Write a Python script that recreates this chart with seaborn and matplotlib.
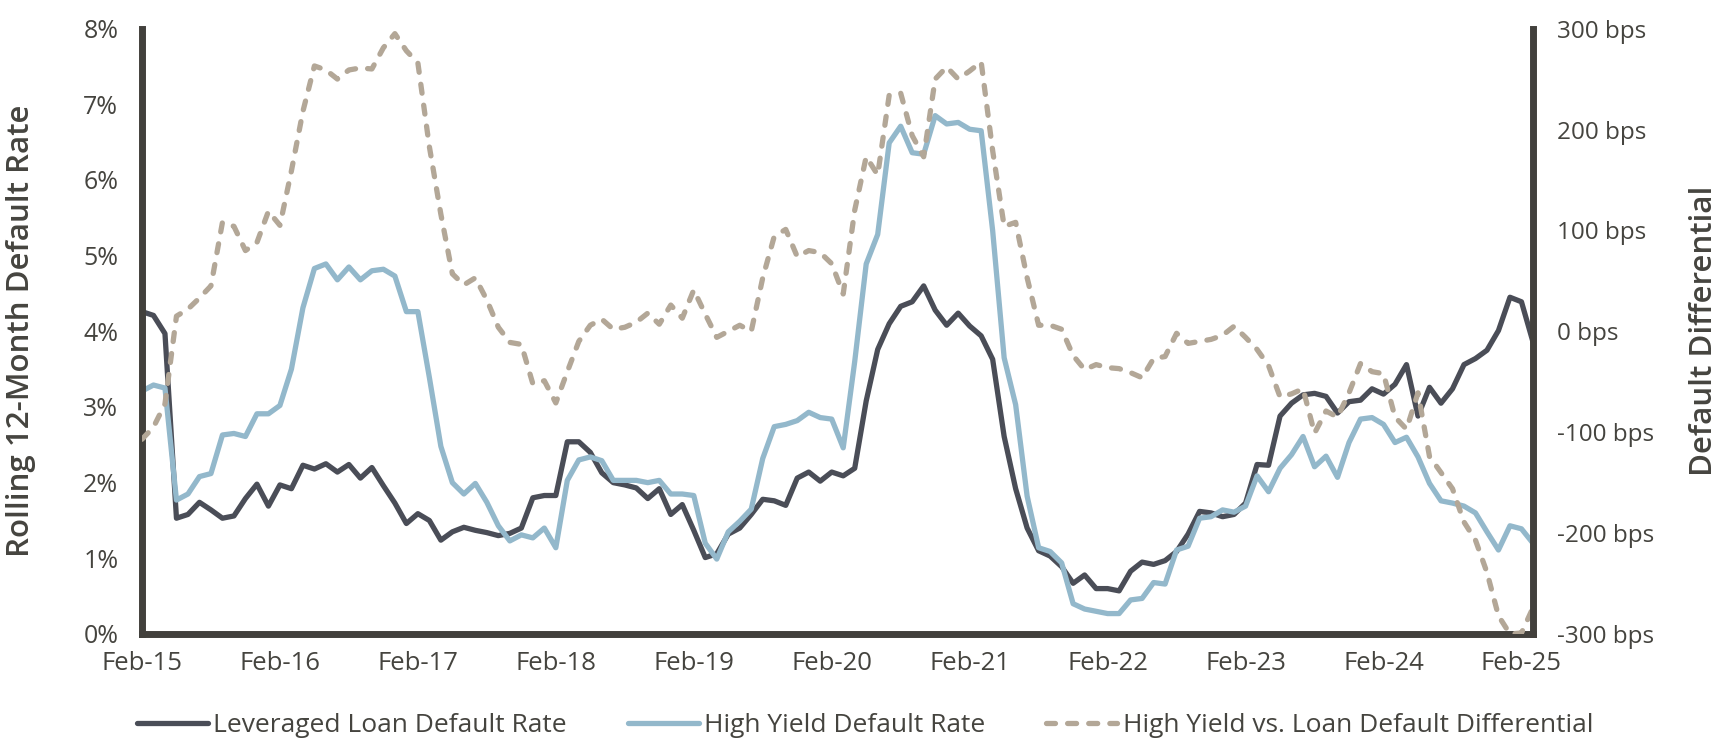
import numpy as np
import pandas as pd
import matplotlib
matplotlib.use("Agg")
import matplotlib.pyplot as plt
import seaborn as sns
from matplotlib.ticker import FuncFormatter, FixedLocator

# ---------------- data (monthly, Feb-15 .. Mar-25) ----------------
tick_labels = ["Feb-15", "Feb-16", "Feb-17", "Feb-18", "Feb-19", "Feb-20",
               "Feb-21", "Feb-22", "Feb-23", "Feb-24", "Feb-25"]

series_names = ["Leveraged Loan Default Rate", "High Yield Default Rate",
                "High Yield vs. Loan Default Differential"]

loan_rate = [4.26, 4.21, 3.97, 1.53, 1.58, 1.74, 1.64, 1.53, 1.56, 1.79,
             1.98, 1.69, 1.97, 1.92, 2.23, 2.18, 2.25, 2.14, 2.24, 2.06,
             2.20, 1.96, 1.73, 1.46, 1.59, 1.50, 1.24, 1.35, 1.41, 1.37,
             1.34, 1.30, 1.33, 1.40, 1.80, 1.83, 1.83, 2.54, 2.54, 2.40,
             2.13, 2.00, 1.97, 1.93, 1.79, 1.92, 1.58, 1.71, 1.37, 1.01,
             1.06, 1.32, 1.40, 1.58, 1.78, 1.76, 1.70, 2.06, 2.14, 2.02,
             2.14, 2.09, 2.19, 3.08, 3.76, 4.10, 4.33, 4.39, 4.60, 4.28,
             4.08, 4.24, 4.07, 3.94, 3.63, 2.61, 1.92, 1.40, 1.10, 1.03,
             0.89, 0.67, 0.78, 0.60, 0.60, 0.57, 0.83, 0.95, 0.92, 0.97,
             1.09, 1.32, 1.62, 1.60, 1.55, 1.58, 1.73, 2.24, 2.23, 2.88,
             3.05, 3.16, 3.18, 3.14, 2.92, 3.07, 3.09, 3.24, 3.17, 3.30,
             3.56, 2.88, 3.26, 3.05, 3.24, 3.56, 3.64, 3.75, 4.01, 4.45,
             4.39, 3.86]

hy_rate = [3.21, 3.29, 3.25, 1.77, 1.85, 2.08, 2.12, 2.63, 2.65, 2.61,
           2.91, 2.91, 3.02, 3.50, 4.31, 4.83, 4.89, 4.68, 4.85, 4.68,
           4.80, 4.82, 4.73, 4.26, 4.26, 3.39, 2.48, 2.00, 1.85, 1.99,
           1.74, 1.43, 1.23, 1.31, 1.27, 1.40, 1.14, 2.03, 2.30, 2.34,
           2.29, 2.03, 2.03, 2.03, 2.00, 2.03, 1.85, 1.85, 1.83, 1.20,
           0.99, 1.35, 1.49, 1.65, 2.32, 2.74, 2.77, 2.82, 2.93, 2.86,
           2.84, 2.46, 3.60, 4.89, 5.28, 6.49, 6.71, 6.36, 6.34, 6.85,
           6.74, 6.76, 6.67, 6.65, 5.33, 3.65, 3.03, 1.82, 1.14, 1.09,
           0.94, 0.40, 0.33, 0.30, 0.27, 0.27, 0.45, 0.47, 0.68, 0.66,
           1.11, 1.16, 1.53, 1.55, 1.64, 1.61, 1.69, 2.09, 1.88, 2.19,
           2.37, 2.61, 2.21, 2.35, 2.07, 2.53, 2.84, 2.86, 2.77, 2.53,
           2.60, 2.34, 1.99, 1.76, 1.73, 1.69, 1.60, 1.35, 1.11, 1.43,
           1.39, 1.20]

differential_bps = [-107, -95, -72, 15, 22, 33, 45, 108, 104, 80,
                    88, 119, 105, 159, 218, 263, 259, 250, 259, 261,
                    260, 281, 295, 278, 266, 183, 116, 57, 46, 53,
                    31, 4, -11, -13, -52, -49, -71, -40, -10, 6,
                    12, 2, 4, 9, 18, 7, 26, 13, 41, 17,
                    -6, 0, 6, 0, 53, 94, 101, 74, 80, 78,
                    67, 37, 120, 173, 155, 234, 236, 194, 173, 250,
                    262, 250, 258, 267, 179, 104, 108, 53, 6, 6,
                    2, -24, -38, -33, -36, -37, -41, -46, -27, -25,
                    -2, -12, -10, -8, -4, 5, -6, -18, -34, -65,
                    -62, -57, -101, -79, -85, -61, -32, -40, -42, -85,
                    -97, -61, -124, -140, -156, -189, -207, -239, -282, -300,
                    -299, -274]

# ---------------- styling ----------------
LL_C = "#4a4d57"
HY_C = "#93b8cb"
DF_C = "#b3a797"
AX_C = "#42403c"
TXT_C = "#45443f"

sns.set_style("white")
plt.rcParams["font.family"] = ["Open Sans", "DejaVu Sans"]

n = len(loan_rate)
df = pd.DataFrame({
    "month": np.arange(n),
    "loan": loan_rate,
    "hy": hy_rate,
    "diff": differential_bps,
})

fig = plt.figure(figsize=(17.23, 7.41), dpi=100)
ax = fig.add_axes([0.0824, 0.1444, 0.8073, 0.817])

sns.lineplot(data=df, x="month", y="loan", ax=ax, color=LL_C, linewidth=3.8,
             legend=False, solid_joinstyle="round", solid_capstyle="round")
sns.lineplot(data=df, x="month", y="hy", ax=ax, color=HY_C, linewidth=3.8,
             legend=False, solid_joinstyle="round", solid_capstyle="round")

ax2 = ax.twinx()
sns.lineplot(data=df, x="month", y="diff", ax=ax2, color=DF_C, linewidth=3.8,
             legend=False)
dline = ax2.lines[0]
dline.set_dashes((1.7, 2.3))
dline.set_dash_capstyle("round")
dline.set_dash_joinstyle("round")

ax.set_xlim(0, n - 1)
ax.set_ylim(0, 8)
ax2.set_ylim(-300, 300)

ax.xaxis.set_major_locator(FixedLocator(np.arange(0, 121, 12)))
ax.set_xticklabels(tick_labels)
ax.yaxis.set_major_locator(FixedLocator(np.arange(0, 9, 1)))
ax.yaxis.set_major_formatter(FuncFormatter(lambda v, p: f"{int(round(v))}%"))
ax2.yaxis.set_major_locator(FixedLocator(np.arange(-300, 301, 100)))
ax2.yaxis.set_major_formatter(FuncFormatter(lambda v, p: f"{int(round(v))} bps"))

ax.tick_params(axis="x", length=0, pad=12, labelsize=18.5, labelcolor=TXT_C)
ax.tick_params(axis="y", length=0, pad=17, labelsize=18, labelcolor=TXT_C)
ax2.tick_params(axis="y", length=0, pad=17, labelsize=17.5, labelcolor=TXT_C)

for a in (ax, ax2):
    for s in a.spines.values():
        s.set_visible(False)
ax.spines["left"].set_visible(True)
ax.spines["bottom"].set_visible(True)
ax2.spines["right"].set_visible(True)
for s in (ax.spines["left"], ax.spines["bottom"], ax2.spines["right"]):
    s.set_linewidth(5)
    s.set_color(AX_C)

ax.set_xlabel("")
ax.set_ylabel("Rolling 12-Month Default Rate", fontsize=22.5, fontweight="semibold",
              color=TXT_C)
ax.yaxis.set_label_coords(-0.076, 0.5)
ax2.set_ylabel("Default Differential", fontsize=22.5, fontweight="semibold",
               color=TXT_C)
ax2.yaxis.set_label_coords(1.112, 0.5)

handles = [ax.lines[0], ax.lines[1], dline]
leg = fig.legend(handles, series_names, loc="center", bbox_to_anchor=(0.502, 0.021),
                 ncol=3, frameon=False, fontsize=19, handlelength=2.7,
                 handletextpad=0.2, columnspacing=2.3, labelcolor=TXT_C)

fig.savefig("out.png", dpi=100)
